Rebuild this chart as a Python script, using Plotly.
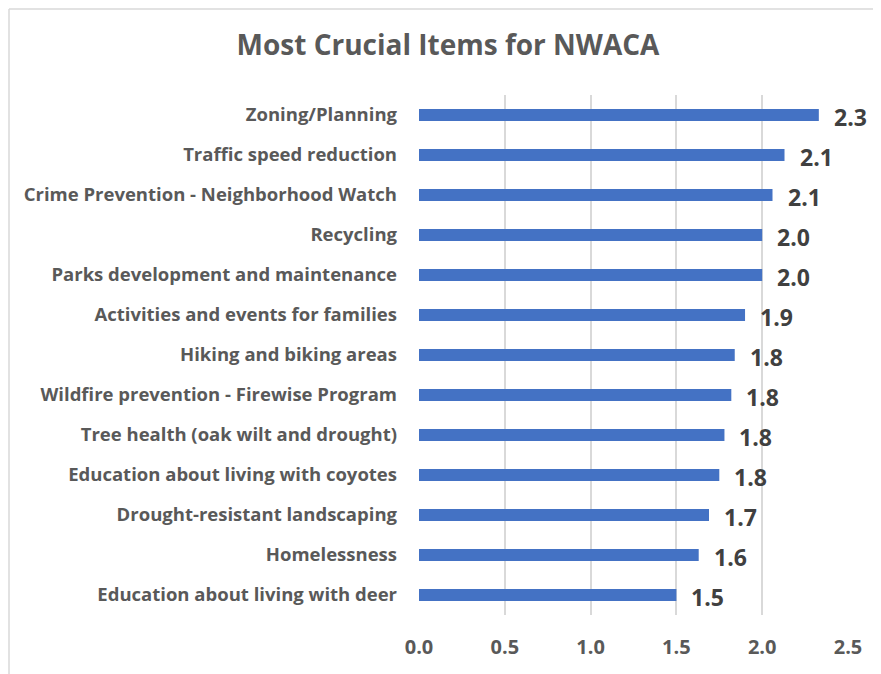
import plotly.graph_objects as go

categories = [
    "Zoning/Planning",
    "Traffic speed reduction",
    "Crime Prevention - Neighborhood Watch",
    "Recycling",
    "Parks development and maintenance",
    "Activities and events for families",
    "Hiking and biking areas",
    "Wildfire prevention - Firewise Program",
    "Tree health (oak wilt and drought)",
    "Education about living with coyotes",
    "Drought-resistant landscaping",
    "Homelessness",
    "Education about living with deer",
]
values = [2.33, 2.13, 2.06, 2.00, 2.00, 1.90, 1.84, 1.82, 1.78, 1.75, 1.69, 1.63, 1.50]
x_ticks = [0.0, 0.5, 1.0, 1.5, 2.0, 2.5]
title = "Most Crucial Items for NWACA"

# page body has an 8px margin, so the figure starts at (8, 8) on screen
W, H = 873, 666
L, T = 411, 87
PW, PH = 429, 520
R = W - L - PW
B = H - T - PH

FONT = "Open Sans"

fig = go.Figure()
fig.add_trace(go.Bar(
    y=categories,
    x=values,
    orientation="h",
    marker=dict(color="#4472C4", line=dict(width=0)),
    hoverinfo="x+y",
))

for c, v in zip(categories, values):
    fig.add_annotation(
        x=v, y=c, text=f"{v:.1f}", showarrow=False,
        xanchor="left", yanchor="middle", xshift=13, yshift=-2,
        font=dict(family=FONT, size=23, color="#404040", weight="bold"),
    )

fig.update_layout(
    width=W, height=H,
    margin=dict(l=L, r=R, t=T, b=B, pad=0),
    paper_bgcolor="white",
    plot_bgcolor="white",
    bargap=0.7,
    showlegend=False,
    title=dict(
        text=title, x=440 / W, xanchor="center", xref="container",
        y=1 - 37 / H, yanchor="middle",
        font=dict(family=FONT, size=28, color="#595959", weight="bold"),
    ),
    xaxis=dict(
        range=[0, 2.5],
        tickvals=x_ticks,
        ticktext=[f"{t:.1f}" for t in x_ticks],
        showgrid=True, gridcolor="#D9D9D9", gridwidth=2,
        zeroline=False, showline=False, ticks="",
        tickfont=dict(family=FONT, size=20, color="#595959", weight="bold"),
        ticklabelstandoff=18,
        fixedrange=True,
    ),
    yaxis=dict(
        autorange="reversed",
        showgrid=False, zeroline=False, showline=False, ticks="",
        tickfont=dict(family=FONT, size=18.5, color="#595959", weight="bold"),
        ticklabelstandoff=21,
        fixedrange=True,
    ),
    shapes=[
        dict(type="line", xref="paper", yref="paper",
             x0=(1 - L) / PW, x1=(W - L) / PW,
             y0=1 + (T - 1) / PH, y1=1 + (T - 1) / PH,
             line=dict(color="#D9D9D9", width=1.5)),
        dict(type="line", xref="paper", yref="paper",
             x0=(1 - L) / PW, x1=(1 - L) / PW,
             y0=1 + (T - 1) / PH, y1=-B / PH,
             line=dict(color="#D9D9D9", width=1.5)),
    ],
)

fig.write_html("out.html")
